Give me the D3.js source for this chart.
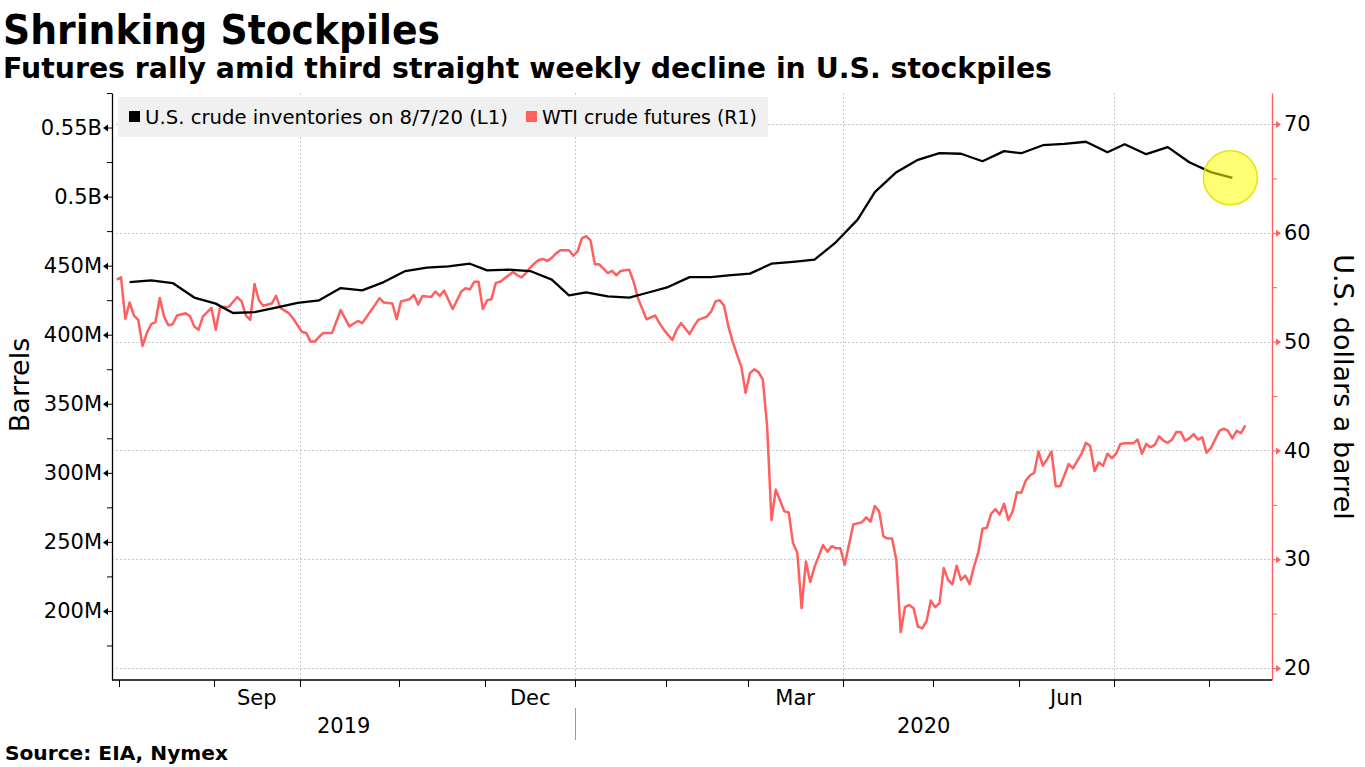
<!DOCTYPE html>
<html><head><meta charset="utf-8">
<script src="https://cdn.jsdelivr.net/npm/d3@7"></script>
<style>
body{margin:0;background:#fff;}
svg{display:block;font-family:"DejaVu Sans",Verdana,sans-serif;}
</style></head><body>
<svg id="chart" width="1365" height="767"></svg>
<script>
// ---------- text ----------
const title = "Shrinking Stockpiles";
const subtitle = "Futures rally amid third straight weekly decline in U.S. stockpiles";
const sourceText = "Source: EIA, Nymex";
const leftAxisTitle = "Barrels";
const rightAxisTitle = "U.S. dollars a barrel";
const seriesNames = ["U.S. crude inventories on 8/7/20 (L1)", "WTI crude futures (R1)"];

// ---------- data ----------
// U.S. crude inventories, millions of barrels (weekly)
const invDates = ["2019-08-05","2019-08-12","2019-08-19","2019-08-26","2019-09-02","2019-09-09","2019-09-16","2019-09-23","2019-09-30","2019-10-07","2019-10-14","2019-10-21","2019-10-28","2019-11-04","2019-11-11","2019-11-18","2019-11-25","2019-12-02","2019-12-09","2019-12-16","2019-12-23","2019-12-30","2020-01-06","2020-01-13","2020-01-20","2020-01-27","2020-02-03","2020-02-10","2020-02-17","2020-02-24","2020-03-02","2020-03-09","2020-03-16","2020-03-23","2020-03-30","2020-04-06","2020-04-13","2020-04-20","2020-04-27","2020-05-04","2020-05-11","2020-05-18","2020-05-25","2020-06-01","2020-06-08","2020-06-15","2020-06-22","2020-06-29","2020-07-06","2020-07-13","2020-07-20","2020-07-27","2020-08-03","2020-08-10"];
const invValues = [438.1,439.4,437.4,426.9,422.5,415.7,416.4,419.6,423.0,424.9,433.8,432.1,438.1,446.1,448.5,449.5,451.4,446.6,447.1,446.1,439.9,428.5,430.7,427.8,426.9,430.2,434.5,441.7,441.7,443.0,444.2,451.4,452.7,454.3,467.1,483.3,503.2,517.7,526.6,531.4,531.0,525.6,532.9,531.4,537.2,538.2,539.7,532.1,537.9,530.7,535.8,524.9,517.7,513.6];

// WTI crude futures, USD per barrel
const wtiDates = ["2019-07-31","2019-08-01","2019-08-02","2019-08-05","2019-08-06","2019-08-07","2019-08-08","2019-08-09","2019-08-12","2019-08-13","2019-08-14","2019-08-15","2019-08-16","2019-08-19","2019-08-20","2019-08-22","2019-08-23","2019-08-26","2019-08-27","2019-08-28","2019-08-30","2019-09-03","2019-09-04","2019-09-06","2019-09-10","2019-09-11","2019-09-12","2019-09-13","2019-09-16","2019-09-17","2019-09-18","2019-09-20","2019-09-23","2019-09-24","2019-09-26","2019-09-27","2019-10-01","2019-10-02","2019-10-03","2019-10-04","2019-10-07","2019-10-08","2019-10-10","2019-10-14","2019-10-16","2019-10-18","2019-10-21","2019-10-24","2019-10-25","2019-10-28","2019-10-30","2019-10-31","2019-11-01","2019-11-05","2019-11-06","2019-11-07","2019-11-08","2019-11-12","2019-11-13","2019-11-14","2019-11-15","2019-11-19","2019-11-21","2019-11-22","2019-11-25","2019-11-26","2019-11-27","2019-11-29","2019-12-02","2019-12-03","2019-12-04","2019-12-05","2019-12-06","2019-12-09","2019-12-10","2019-12-11","2019-12-12","2019-12-13","2019-12-16","2019-12-17","2019-12-18","2019-12-19","2019-12-20","2019-12-23","2019-12-24","2019-12-26","2019-12-27","2019-12-30","2019-12-31","2020-01-02","2020-01-03","2020-01-06","2020-01-07","2020-01-08","2020-01-09","2020-01-10","2020-01-13","2020-01-14","2020-01-15","2020-01-16","2020-01-17","2020-01-21","2020-01-22","2020-01-23","2020-01-27","2020-01-29","2020-01-30","2020-01-31","2020-02-04","2020-02-05","2020-02-06","2020-02-07","2020-02-10","2020-02-11","2020-02-12","2020-02-14","2020-02-18","2020-02-19","2020-02-20","2020-02-21","2020-02-24","2020-02-25","2020-02-26","2020-02-27","2020-02-28","2020-03-02","2020-03-03","2020-03-04","2020-03-05","2020-03-06","2020-03-09","2020-03-10","2020-03-11","2020-03-12","2020-03-13","2020-03-16","2020-03-17","2020-03-18","2020-03-19","2020-03-20","2020-03-23","2020-03-25","2020-03-26","2020-03-27","2020-03-30","2020-03-31","2020-04-01","2020-04-03","2020-04-07","2020-04-08","2020-04-09","2020-04-13","2020-04-14","2020-04-15","2020-04-16","2020-04-17","2020-04-20","2020-04-21","2020-04-22","2020-04-23","2020-04-24","2020-04-27","2020-04-28","2020-04-29","2020-04-30","2020-05-01","2020-05-04","2020-05-05","2020-05-06","2020-05-07","2020-05-08","2020-05-11","2020-05-12","2020-05-13","2020-05-14","2020-05-15","2020-05-18","2020-05-19","2020-05-20","2020-05-21","2020-05-22","2020-05-26","2020-05-27","2020-05-28","2020-05-29","2020-06-01","2020-06-02","2020-06-03","2020-06-04","2020-06-05","2020-06-08","2020-06-09","2020-06-10","2020-06-11","2020-06-12","2020-06-15","2020-06-16","2020-06-17","2020-06-18","2020-06-19","2020-06-22","2020-06-23","2020-06-24","2020-06-25","2020-06-26","2020-06-29","2020-06-30","2020-07-01","2020-07-02","2020-07-06","2020-07-07","2020-07-08","2020-07-09","2020-07-10","2020-07-13","2020-07-14","2020-07-15","2020-07-16","2020-07-17","2020-07-20","2020-07-21","2020-07-22","2020-07-23","2020-07-24","2020-07-27","2020-07-28","2020-07-29","2020-07-30","2020-07-31","2020-08-03","2020-08-04","2020-08-05","2020-08-06","2020-08-07","2020-08-10","2020-08-11","2020-08-12","2020-08-13"];
const wtiValues = [55.7,55.9,52.1,53.6,52.4,52.0,49.6,50.8,51.6,51.8,54.0,52.3,51.5,51.6,52.4,52.6,52.35,51.4,51.1,52.3,53.1,51.1,53.15,53.2,54.1,53.7,52.4,52.0,55.3,53.8,53.3,53.5,54.2,53.1,52.6,52.1,50.9,50.8,50.0,50.0,50.45,50.8,50.8,52.9,51.4,51.9,51.7,53.4,54.0,53.6,53.5,52.05,53.7,53.9,54.3,53.4,54.2,54.1,54.6,54.2,54.7,53.0,54.6,54.9,54.8,55.5,55.5,53.0,53.8,53.9,55.4,55.5,55.8,56.1,56.4,56.1,55.9,56.3,56.8,57.2,57.5,57.6,57.4,57.7,58.1,58.4,58.4,58.4,57.9,58.3,59.5,59.7,59.3,57.1,57.1,56.7,56.3,56.5,56.1,56.5,56.55,56.6,55.5,54.0,52.05,52.4,51.7,51.1,50.15,51.1,51.7,51.2,50.7,51.4,52.0,52.3,52.75,53.7,53.8,53.3,51.4,50.0,48.8,47.7,45.3,47.1,47.45,47.2,46.5,42.2,33.6,36.4,35.4,34.4,34.3,31.5,30.6,25.5,29.8,27.9,29.3,31.3,30.7,31.2,31.0,31.0,29.5,33.2,33.4,33.85,33.45,34.9,34.4,32.1,31.9,31.9,29.9,23.3,25.6,25.8,25.5,23.8,23.65,24.3,26.2,25.6,25.95,29.2,28.1,27.7,29.4,28.1,28.5,27.7,29.3,30.6,32.8,32.9,34.2,34.6,34.1,35.1,33.6,34.4,36.15,36.1,37.2,37.7,37.95,39.9,38.6,39.2,39.9,36.7,36.7,37.7,38.75,38.35,39.05,39.7,40.7,40.4,38.1,38.9,38.6,39.7,39.3,39.7,40.6,40.65,40.65,40.65,41.0,39.7,40.6,40.3,40.5,41.3,40.9,40.7,41.0,41.7,41.7,40.9,41.1,41.5,41.0,41.2,39.8,40.2,41.0,41.8,42.0,41.8,41.1,41.8,41.6,42.3];

// axis ticks
const leftTicks = [200, 250, 300, 350, 400, 450, 500, 550];          // millions
const leftMinorTicks = [175, 225, 275, 325, 375, 425, 475, 525, 575];
const rightTicks = [20, 30, 40, 50, 60, 70];
const rightMinorTicks = [25, 35, 45, 55, 65];
const monthLabelDates = ["2019-09-01", "2019-12-01", "2020-03-01", "2020-06-01"];
const monthLabels = ["Sep", "Dec", "Mar", "Jun"];
const yearLabels = ["2019", "2020"];
const gridDates = ["2019-10-01", "2020-01-01", "2020-04-01", "2020-07-01"];
// exchange holidays (axis runs on trading days)
const holidays = ["2019-09-02","2019-11-28","2019-12-25","2020-01-01","2020-01-20","2020-02-17","2020-04-10","2020-05-25","2020-07-03"];

// ---------- setup ----------
const parse = d3.utcParse("%Y-%m-%d");
const fmt = d3.utcFormat("%Y-%m-%d");
const holidaySet = new Set(holidays);
const tradingDays = d3.utcDay.range(parse("2019-07-29"), parse("2020-09-01"))
  .filter(d => d.getUTCDay() % 6 !== 0 && !holidaySet.has(fmt(d)))
  .map(d => +d);
const tIdx = s => d3.bisectLeft(tradingDays, +parse(s));
const base = tIdx("2019-08-01");

const L = 112, R = 1272, T = 93, B = 680;
const x = d3.scaleLinear().domain([base - 2.09, base + 267.2]).range([L, R]);
const yL = d3.scaleLinear().domain([150, 575]).range([B, T]);
const yR = d3.scaleLinear().domain([18.9, 72.85]).range([B, T]);
const redColor = "#ff5f5f";

const svg = d3.select("#chart");

// titles
svg.append("text").attr("x", 3).attr("y", 44).attr("font-size", 40).attr("font-weight", "bold")
  .attr("textLength", 437).attr("lengthAdjust", "spacingAndGlyphs").text(title);
svg.append("text").attr("x", 3).attr("y", 78).attr("font-size", 28).attr("font-weight", "bold")
  .attr("textLength", 1049).attr("lengthAdjust", "spacingAndGlyphs").text(subtitle);
svg.append("text").attr("x", 5).attr("y", 760).attr("font-size", 19).attr("font-weight", "bold")
  .attr("textLength", 223).attr("lengthAdjust", "spacingAndGlyphs").text(sourceText);

// gridlines
const grid = svg.append("g").attr("stroke", "#c8c8c8").attr("stroke-width", 1).attr("stroke-dasharray", "2,2");
grid.selectAll("line.h").data(rightTicks).join("line").attr("class", "h")
  .attr("x1", L).attr("x2", R).attr("y1", d => Math.round(yR(d)) + 0.5).attr("y2", d => Math.round(yR(d)) + 0.5);
grid.selectAll("line.v").data(gridDates).join("line").attr("class", "v")
  .attr("x1", d => Math.round(x(tIdx(d) - 0.5)) + 0.5).attr("x2", d => Math.round(x(tIdx(d) - 0.5)) + 0.5)
  .attr("y1", T).attr("y2", B);

// legend
const lg = svg.append("g");
lg.append("rect").attr("x", 118).attr("y", 97).attr("width", 650).attr("height", 40).attr("fill", "#eeeeee").attr("opacity", 0.9);
lg.append("rect").attr("x", 129).attr("y", 111).attr("width", 11).attr("height", 11).attr("fill", "#000");
lg.append("text").attr("x", 145).attr("y", 124).attr("font-size", 20)
  .attr("textLength", 363).attr("lengthAdjust", "spacingAndGlyphs").text(seriesNames[0]);
lg.append("rect").attr("x", 526).attr("y", 111).attr("width", 11).attr("height", 11).attr("fill", redColor);
lg.append("text").attr("x", 542).attr("y", 124).attr("font-size", 20)
  .attr("textLength", 215).attr("lengthAdjust", "spacingAndGlyphs").text(seriesNames[1]);

// lines
const wti = wtiDates.map((d, i) => ({ t: tIdx(d), v: wtiValues[i] }));
const inv = invDates.map((d, i) => ({ t: tIdx(d), v: invValues[i] }));
svg.append("path").datum(wti).attr("fill", "none").attr("stroke", redColor).attr("stroke-width", 2.5)
  .attr("stroke-linejoin", "round")
  .attr("d", d3.line().x(d => x(d.t)).y(d => yR(d.v)));
svg.append("path").datum(inv).attr("fill", "none").attr("stroke", "#000").attr("stroke-width", 2.3)
  .attr("stroke-linejoin", "round")
  .attr("d", d3.line().x(d => x(d.t)).y(d => yL(d.v)));

// highlight circle on the latest inventory reading
const last = inv[inv.length - 1];
svg.append("circle").attr("cx", x(last.t) - 2).attr("cy", yL(last.v)).attr("r", 27)
  .attr("fill", "rgba(255,255,0,0.55)").attr("stroke", "rgba(225,225,0,0.9)").attr("stroke-width", 1.5);

// left axis
const fmtL = v => v >= 500 ? (v / 1000) + "B" : v + "M";
const gL = svg.append("g").attr("transform", `translate(${L},0)`)
  .call(d3.axisLeft(yL).tickValues(leftTicks).tickFormat(fmtL).tickSize(7).tickSizeOuter(0).tickPadding(3));
gL.selectAll(".tick text").attr("font-size", 21).attr("font-family", "DejaVu Sans").attr("fill", "#000");
gL.selectAll(".tick").append("path").attr("d", "M-9,0L-4,-3.5L-4,3.5Z").attr("fill", "#000");
gL.select(".domain").attr("stroke", "#000").attr("stroke-width", 1.3);
svg.append("g").attr("transform", `translate(${L},0)`)
  .call(d3.axisLeft(yL).tickValues(leftMinorTicks).tickFormat("").tickSize(5).tickSizeOuter(0))
  .call(g => g.select(".domain").remove());

// right axis
const gR = svg.append("g").attr("transform", `translate(${R},0)`)
  .call(d3.axisRight(yR).tickValues(rightTicks).tickSize(7).tickSizeOuter(0).tickPadding(5));
gR.selectAll(".tick line").attr("stroke", redColor);
gR.selectAll(".tick text").attr("font-size", 21).attr("font-family", "DejaVu Sans").attr("fill", "#000");
gR.selectAll(".tick").append("path").attr("d", "M9,0L4,-3.5L4,3.5Z").attr("fill", redColor);
gR.select(".domain").attr("stroke", redColor).attr("stroke-width", 1.3);
svg.append("g").attr("transform", `translate(${R},0)`)
  .call(d3.axisRight(yR).tickValues(rightMinorTicks).tickFormat("").tickSize(5).tickSizeOuter(0))
  .call(g => g.select(".domain").remove())
  .call(g => g.selectAll("line").attr("stroke", redColor));

// axis titles
svg.append("text").attr("transform", "translate(29,385) rotate(-90)").attr("text-anchor", "middle")
  .attr("font-size", 27).text(leftAxisTitle);
svg.append("text").attr("transform", "translate(1334,387) rotate(90)").attr("text-anchor", "middle")
  .attr("font-size", 27).text(rightAxisTitle);

// bottom axis
const monthBounds = d3.utcMonth.range(parse("2019-08-01"), parse("2020-08-02")).map(fmt);
const bx = d => x(tIdx(d) - 0.5);
const gB = svg.append("g");
gB.append("line").attr("x1", L).attr("x2", R).attr("y1", B).attr("y2", B).attr("stroke", "#000").attr("stroke-width", 1.3);
gB.selectAll("line.mt").data(monthBounds).join("line").attr("class", "mt")
  .attr("x1", d => Math.round(bx(d)) + 0.5).attr("x2", d => Math.round(bx(d)) + 0.5)
  .attr("y1", B).attr("y2", B + 7).attr("stroke", "#000").attr("stroke-width", 1);
const nextMonth = d => fmt(d3.utcMonth.offset(parse(d), 1));
gB.selectAll("text.m").data(monthLabelDates).join("text").attr("class", "m")
  .attr("x", d => (bx(d) + bx(nextMonth(d))) / 2).attr("y", 705)
  .attr("text-anchor", "middle").attr("font-size", 21).text((d, i) => monthLabels[i]);
const yearSplit = bx("2020-01-01");
gB.append("line").attr("x1", Math.round(yearSplit) + 0.5).attr("x2", Math.round(yearSplit) + 0.5)
  .attr("y1", 708).attr("y2", 740).attr("stroke", "#999");
const yearCenters = [(L + yearSplit) / 2, (yearSplit + R) / 2];
gB.selectAll("text.y").data(yearLabels).join("text").attr("class", "y")
  .attr("x", (d, i) => yearCenters[i]).attr("y", 733)
  .attr("text-anchor", "middle").attr("font-size", 21).text(d => d);
</script>
</body></html>
